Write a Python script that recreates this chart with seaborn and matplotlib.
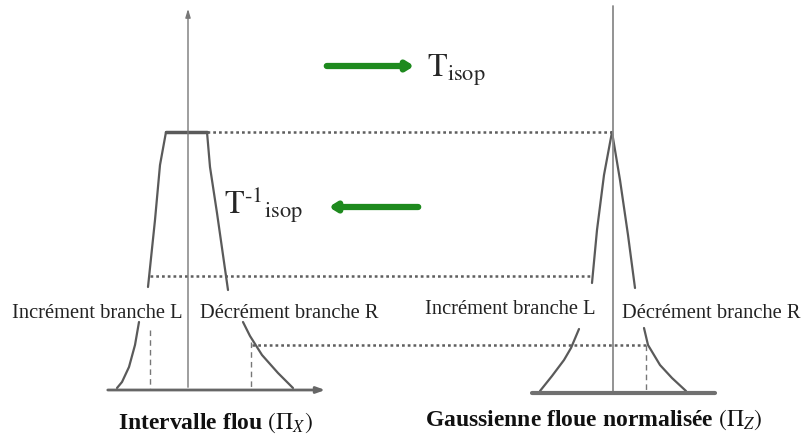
import numpy as np
import pandas as pd
import matplotlib
matplotlib.use("Agg")
import matplotlib.pyplot as plt
import seaborn as sns

# courbes du schema (coordonnees en pixels, y vers le bas)
gauche_haut_x = [166, 160, 155, 148]
gauche_haut_y = [132, 165, 220, 287]
droite_haut_x = [207, 210, 217, 228]
droite_haut_y = [132, 167, 213, 290]
gauche_bas_x = [139, 135, 129, 122, 117]
gauche_bas_y = [322, 345, 367, 382, 388]
droite_bas_x = [243, 250, 262, 278, 293]
droite_bas_y = [322, 336, 355, 373, 388]
plateau_x = [166, 207]
plateau_y = [132, 132]

gauss_gh_x = [612, 604, 597, 592]
gauss_gh_y = [132, 175, 230, 283]
gauss_dh_x = [612, 620, 628, 635]
gauss_dh_y = [132, 180, 235, 288]
gauss_gb_x = [579, 571, 564, 552, 540]
gauss_gb_y = [329, 348, 360, 376, 391]
gauss_db_x = [644, 648, 660, 672, 686]
gauss_db_y = [328, 345, 365, 378, 391]

# pointilles horizontaux : (x debut, x fin, y)
pointilles = [(207, 612, 132), (150, 592, 276), (252, 646, 345)]
# tirets verticaux : (x, y haut, y bas)
tirets = [(150, 330, 390), (251, 342, 390), (646, 345, 392)]

sns.set_style("white")
plt.rcParams["font.family"] = ["Liberation Serif", "DejaVu Serif"]
plt.rcParams["mathtext.fontset"] = "stix"

fig = plt.figure(figsize=(8.04, 4.45), dpi=100)
ax = fig.add_axes([0, 0, 1, 1])
ax.set_xlim(0, 804)
ax.set_ylim(445, 0)
ax.axis("off")

segments = [
    ("plateau", plateau_x, plateau_y),
    ("gh", gauche_haut_x, gauche_haut_y),
    ("dh", droite_haut_x, droite_haut_y),
    ("gb", gauche_bas_x, gauche_bas_y),
    ("db", droite_bas_x, droite_bas_y),
    ("ggh", gauss_gh_x, gauss_gh_y),
    ("gdh", gauss_dh_x, gauss_dh_y),
    ("ggb", gauss_gb_x, gauss_gb_y),
    ("gdb", gauss_db_x, gauss_db_y),
]
rows = []
for nom, xs, ys in segments:
    for x, y in zip(xs, ys):
        rows.append({"seg": nom, "x": x, "y": y})
df = pd.DataFrame(rows)

gris = "#5a5a5a"
sns.lineplot(data=df[df.seg != "plateau"], x="x", y="y", units="seg",
             estimator=None, sort=False, color=gris, lw=1.6, ax=ax)
sns.lineplot(data=df[df.seg == "plateau"], x="x", y="y", units="seg",
             estimator=None, sort=False, color=gris, lw=2.5, ax=ax)

for x0, x1, y in pointilles:
    ax.plot([x0, x1], [y, y], color="#5f5f5f", lw=1.8, ls=(0, (1.1, 1.2)))
for x, y0, y1 in tirets:
    ax.plot([x, x], [y0, y1], color="#777777", lw=1.0, ls=(0, (4, 3)))

# axes du premier schema
ax.annotate("", xy=(188, 6), xytext=(188, 390),
            arrowprops=dict(arrowstyle="-|>,head_length=0.5,head_width=0.15",
                            color="#777777", lw=1.0))
ax.annotate("", xy=(328, 390), xytext=(105, 390),
            arrowprops=dict(arrowstyle="-|>,head_length=0.5,head_width=0.18",
                            color="#666666", lw=2.0))
# axes du second schema
ax.plot([613, 613], [6, 392], color="#8a8a8a", lw=1.3)
ax.plot([532, 715], [393, 393], color="#707070", lw=3.0)

# fleches vertes
vert = "#1e8a1e"
ax.annotate("", xy=(417, 66), xytext=(324, 66),
            arrowprops=dict(arrowstyle="-|>,head_length=0.4,head_width=0.25",
                            color=vert, lw=4.5))
ax.annotate("", xy=(326, 207), xytext=(421, 207),
            arrowprops=dict(arrowstyle="-|>,head_length=0.4,head_width=0.25",
                            color=vert, lw=4.5))

ax.text(427, 70, r"$\mathrm{T}_{\mathrm{isop}}$", fontsize=23, ha="left", va="center")
ax.text(224, 205, r"$\mathrm{T}^{\text{-}\mathrm{1}}{}_{\mathrm{isop}}$", fontsize=23,
        ha="left", va="center")

etiq = dict(fontsize=14.8, va="center", color="#222222")
ax.text(12, 313, "Incrément branche L", ha="left", **etiq)
ax.text(200, 313, "Décrément branche R", ha="left", **etiq)
ax.text(425, 310, "Incrément branche L", ha="left", **etiq)
ax.text(622, 314, "Décrément branche R", ha="left", **etiq)

ax.text(118, 423, r"Intervalle flou $(\mathit{\Pi}_X)$", fontsize=17,
        fontweight="bold", ha="left", va="center", color="#111111")
ax.text(425, 420, r"Gaussienne floue normalisée $(\mathit{\Pi}_Z)$", fontsize=17,
        fontweight="bold", ha="left", va="center", color="#111111")

fig.savefig("out.png", dpi=100)
